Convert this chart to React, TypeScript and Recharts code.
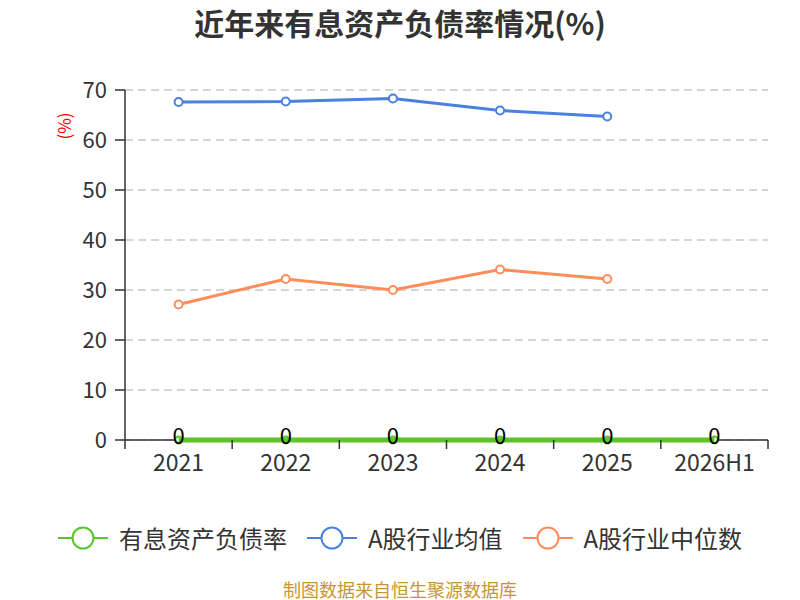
import { LineChart, Line, XAxis, YAxis, CartesianGrid, LabelList } from "recharts"

document.body.style.margin = "0"

const years = ["2021", "2022", "2023", "2024", "2025", "2026H1"]
const interestRate = [0, 0, 0, 0, 0, 0]
const industryMean = [67.6, 67.7, 68.3, 65.9, 64.7, null]
const industryMedian = [27.1, 32.2, 30.0, 34.1, 32.2, null]
const yTicks = [0, 10, 20, 30, 40, 50, 60, 70]

const FONT = '"Noto Sans CJK SC", "Noto Sans", sans-serif'
const GREEN = "#5bc42a"
const BLUE = "#4a80e0"
const ORANGE = "#ff8c5a"

// each year sits in the middle of its slot, slot edges get the tick marks
const data = years.map((year, i) => ({
    pos: i + 0.5,
    year,
    interest: interestRate[i],
    mean: industryMean[i],
    median: industryMedian[i],
}))
const xTicks = Array.from({ length: years.length * 2 + 1 }, (_, i) => i / 2)

const legendItems = [
    { name: "有息资产负债率", color: GREEN },
    { name: "A股行业均值", color: BLUE },
    { name: "A股行业中位数", color: ORANGE },
]

function XTick(props: any) {
    const { x, y, payload } = props
    const v = payload.value
    if (Number.isInteger(v)) {
        return <line x1={x} y1={y} x2={x} y2={y + 9} stroke="#333" strokeWidth={1.5} />
    }
    return (
        <text x={x} y={y + 15} dy="0.71em" textAnchor="middle" fill="#333" fontSize={23}>
            {years[Math.floor(v)]}
        </text>
    )
}

function LegendIcon({ color }: { color: string }) {
    return (
        <svg width={50} height={26} style={{ display: "block" }}>
            <line x1={0} y1={13} x2={50} y2={13} stroke={color} strokeWidth={2} />
            <circle cx={25} cy={13} r={10.5} fill="#fff" stroke={color} strokeWidth={2} />
        </svg>
    )
}

export default function App() {
    return (
        <div style={{ position: "relative", width: 800, height: 600, fontFamily: FONT, background: "#fff" }}>
            <div
                style={{
                    position: "absolute",
                    top: 0,
                    left: 0,
                    width: 800,
                    textAlign: "center",
                    fontSize: 30,
                    fontWeight: "bold",
                    color: "#333",
                    lineHeight: "44px",
                }}
            >
                近年来有息资产负债率情况(%)
            </div>
            <div
                style={{
                    position: "absolute",
                    left: 63,
                    top: 126,
                    transform: "translate(-50%, -50%) rotate(-90deg)",
                    color: "#ff0000",
                    fontSize: 17,
                    whiteSpace: "nowrap",
                }}
            >
                (%)
            </div>
            <LineChart
                width={800}
                height={600}
                data={data}
                margin={{ top: 90, right: 32, left: 65, bottom: 120 }}
                style={{ fontFamily: FONT }}
            >
                <CartesianGrid vertical={false} stroke="#c8c8c8" strokeDasharray="8 5" strokeWidth={1.5} />
                <XAxis
                    dataKey="pos"
                    type="number"
                    domain={[0, years.length]}
                    ticks={xTicks}
                    interval={0}
                    tickLine={false}
                    tickSize={0}
                    tickMargin={0}
                    height={40}
                    stroke="#333"
                    strokeWidth={1.5}
                    tick={<XTick />}
                />
                <YAxis
                    domain={[0, 70]}
                    ticks={yTicks}
                    width={60}
                    tickSize={10}
                    tickMargin={8}
                    stroke="#333"
                    strokeWidth={1.5}
                    tick={{ fill: "#333", fontSize: 22 }}
                />
                <Line
                    dataKey="mean"
                    stroke={BLUE}
                    strokeWidth={3}
                    dot={{ r: 4, fill: "#fff", stroke: BLUE, strokeWidth: 2 }}
                    isAnimationActive={false}
                />
                <Line
                    dataKey="median"
                    stroke={ORANGE}
                    strokeWidth={3}
                    dot={{ r: 4, fill: "#fff", stroke: ORANGE, strokeWidth: 2 }}
                    isAnimationActive={false}
                />
                <Line
                    dataKey="interest"
                    stroke={GREEN}
                    strokeWidth={5}
                    dot={{ r: 3.5, fill: "#fff", stroke: GREEN, strokeWidth: 2 }}
                    isAnimationActive={false}
                    zIndex={600}
                >
                    <LabelList dataKey="interest" position="center" dy={-4} fill="#000" fontSize={22} />
                </Line>
            </LineChart>
            <div
                style={{
                    position: "absolute",
                    top: 524,
                    left: 0,
                    width: 800,
                    display: "flex",
                    justifyContent: "center",
                    gap: 20,
                }}
            >
                {legendItems.map((item) => (
                    <div key={item.name} style={{ display: "flex", alignItems: "center", gap: 11 }}>
                        <LegendIcon color={item.color} />
                        <span style={{ fontSize: 24, color: "#333", lineHeight: "28px" }}>{item.name}</span>
                    </div>
                ))}
            </div>
            <div
                style={{
                    position: "absolute",
                    top: 578,
                    left: 0,
                    width: 800,
                    textAlign: "center",
                    fontSize: 18,
                    color: "#c8962e",
                    lineHeight: "22px",
                }}
            >
                制图数据来自恒生聚源数据库
            </div>
        </div>
    )
}
